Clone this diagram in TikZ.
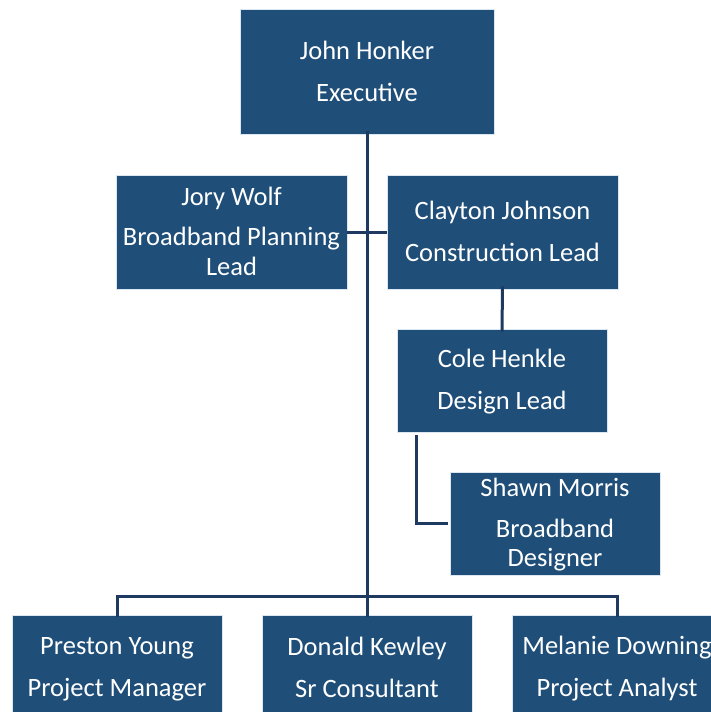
\documentclass[tikz,border=0pt]{standalone}
\usepackage{fontspec}
\setmainfont{Carlito}
\usetikzlibrary{calc}
\definecolor{boxblue}{RGB}{31,78,121}
\definecolor{linkblue}{RGB}{30,58,96}
\definecolor{edge}{RGB}{220,230,240}
\newcommand{\tline}[1]{\rule[-4pt]{0pt}{25pt}#1}
\begin{document}
\begin{tikzpicture}[x=1pt,y=-1pt,
  person/.style={rectangle, fill=boxblue, draw=edge, line width=0.6pt, text=white,
    align=center, inner sep=0pt, font=\fontsize{26.5}{30}\selectfont},
  link/.style={draw=linkblue, line width=3pt}]
\useasboundingbox (0,0) rectangle (710,712);
\fill[white] (0,0) rectangle (710,712);
\node[person, minimum width=254pt, minimum height=125pt] (john) at (367,71.5) {\tline{John Honker}\\[12pt]\tline{Executive}};
\node[person, minimum width=231pt, minimum height=114pt] (jory) at (231.5,232) {\tline{Jory Wolf}\\[10pt]\tline{Broadband Planning}\\[0pt]\tline{Lead}};
\node[person, minimum width=231pt, minimum height=114pt] (clayton) at (502.5,232) {\tline{Clayton Johnson}\\[12pt]\tline{Construction Lead}};
\node[person, minimum width=210pt, minimum height=103pt] (cole) at (502,380.5) {\tline{Cole Henkle}\\[12pt]\tline{Design Lead}};
\node[person, minimum width=210pt, minimum height=103pt] (shawn) at (555,523.5) {\tline{Shawn Morris}\\[11pt]\tline{Broadband}\\[-1pt]\tline{Designer}};
\node[person, minimum width=210pt, minimum height=105pt] (preston) at (117,667.5) {\tline{Preston Young}\\[12pt]\tline{Project Manager}};
\node[person, minimum width=210pt, minimum height=105pt] (donald) at (367,667.5) {\tline{Donald Kewley}\\[12pt]\tline{Sr Consultant}};
\node[person, minimum width=210pt, minimum height=105pt] (melanie) at (617,667.5) {\tline{Melanie Downing}\\[12pt]\tline{Project Analyst}};
\coordinate (bar) at (367,596);
\draw[link] ([yshift=3pt]john.south) -- ([yshift=-2pt]donald.north);
\draw[link] (jory.east) -- (clayton.west);
\draw[link] ([yshift=3pt]clayton.south) -- ([yshift=-3pt]cole.north);
\draw[link] ($(cole.south west)+(20,3)$) |- ([xshift=-2pt]shawn.west);
\draw[link] ([yshift=-2pt]preston.north) |- (bar) -| ([yshift=-2pt]melanie.north);
\end{tikzpicture}
\end{document}
